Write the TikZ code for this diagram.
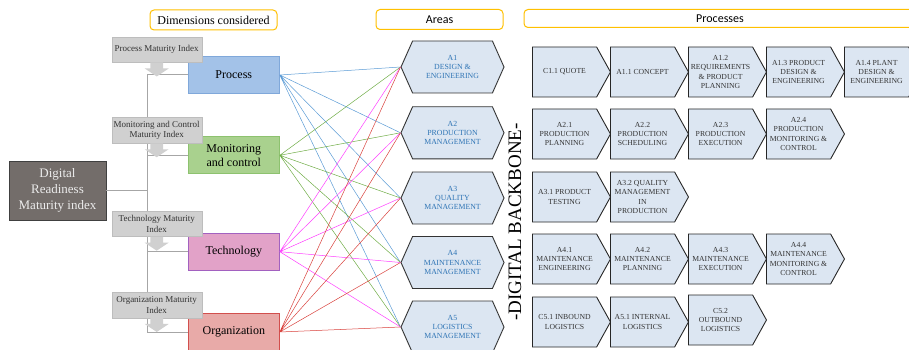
\documentclass[tikz,border=0pt]{standalone}
\usepackage{fontspec}
\setmainfont{Liberation Serif}
\newfontfamily\headsans{Carlito}
\usepackage{tikz}
\usetikzlibrary{shapes.symbols}
\definecolor{hdrgold}{HTML}{FFC000}
\definecolor{idxfill}{HTML}{D0D0D0}
\definecolor{idxedge}{HTML}{BDBDBD}
\definecolor{trunkgrey}{HTML}{A6A6A6}
\definecolor{drmifill}{HTML}{736D6A}
\definecolor{procfill}{HTML}{A3C2E8}
\definecolor{procedge}{HTML}{80A8DA}
\definecolor{monfill}{HTML}{A9D18E}
\definecolor{monedge}{HTML}{8DC26F}
\definecolor{techfill}{HTML}{E2A2C8}
\definecolor{techedge}{HTML}{A261C0}
\definecolor{orgfill}{HTML}{E8AAA8}
\definecolor{orgedge}{HTML}{D24F4D}
\definecolor{boxfill}{HTML}{DCE6F2}
\definecolor{areablue}{HTML}{2E74B5}
\definecolor{lnblue}{HTML}{5B9BD5}
\definecolor{lngreen}{HTML}{70AD47}
\definecolor{lnpink}{HTML}{FF3DFF}
\definecolor{lnred}{HTML}{D9413C}

\begin{document}
\begin{tikzpicture}[x=1pt,y=-1pt,
    header/.style={draw=hdrgold, line width=1pt, rounded corners=4pt, fill=white,
      minimum height=20pt, inner sep=0pt, font=\fontsize{12}{14}\selectfont},
    idxbox/.style={draw=idxedge, fill=idxfill, minimum width=90pt, minimum height=25.5pt,
      inner sep=1pt, align=center, text=black!80, font=\fontsize{9}{10.7}\selectfont},
    dimbox/.style={minimum width=91pt, minimum height=37pt, inner sep=1pt, align=center,
      line width=1pt, font=\fontsize{12}{14.3}\selectfont},
    area/.style={signal, signal to=west and east, signal pointer angle=132, draw=black!80,
      line width=0.9pt, fill=boxfill, minimum width=103pt, minimum height=52pt, inner sep=1pt,
      align=center, text=areablue, font=\fontsize{7.8}{9.2}\selectfont},
    procbox/.style={signal, signal to=east, signal pointer angle=122, draw=black!85,
      line width=0.9pt, fill=boxfill, minimum width=78pt, minimum height=50pt, inner sep=1pt,
      align=center, text=black!80, anchor=west, font=\fontsize{7.7}{9.3}\selectfont},
    link/.style={line width=0.5pt},
    trunk/.style={draw=trunkgrey, line width=1pt}]
  \useasboundingbox (0,0) rectangle (909,350);

  % headers
  \node (hdim) at (213.5,20) [header, minimum width=127pt] {Dimensions considered};
  \node (hareas) at (439.5,19.5) [header, minimum width=127pt] {\headsans Areas};
  \node (hproc) at (720,18.5) [header, minimum width=392pt, minimum height=18pt] {\headsans Processes};

  % dimensions
  \node (drmi) at (57.5,190.5) [draw=black!75, fill=drmifill, text=white!92!black, minimum width=97pt,
    minimum height=59pt, inner sep=1pt, align=center, font=\fontsize{13}{15.7}\selectfont]
    {Digital\\Readiness\\Maturity index};

  \node (proc) at (233.8,75) [dimbox, draw=procedge, fill=procfill] {Process};
  \node (mon) at (233.8,155.3) [dimbox, draw=monedge, fill=monfill] {Monitoring\\and control};
  \node (tech) at (233.8,251.7) [dimbox, draw=techedge, fill=techfill] {Technology};
  \node (org) at (233.8,332) [dimbox, draw=orgedge, fill=orgfill] {Organization};

  \coordinate (stem) at (147,0);
  \draw[trunk] (proc.west) -- (proc.west -| stem) -- (org.west -| stem) -- (org.west)
    (mon.west) -- (mon.west -| stem)
    (tech.west) -- (tech.west -| stem)
    (drmi.east) -- (drmi.east -| stem);

  \node (pmi) at (156.7,49.5) [idxbox] {Process Maturity Index};
  \node (mmi) at (156.7,130.3) [idxbox] {Monitoring and Control\\Maturity Index};
  \node (tmi) at (156.7,223.7) [idxbox] {Technology Maturity\\Index};
  \node (omi) at (156.7,305) [idxbox] {Organization Maturity\\Index};
  \foreach \n in {pmi,mmi,tmi,omi}
    \fill[idxfill] (\n.south) ++(-6.3,0) -- ++(0,6) -- ++(-5.7,0) -- ++(12,8)
      -- ++(12,-8) -- ++(-5.7,0) -- ++(0,-6) -- cycle;

  % areas
  \node (a1) at (452.5,67) [area] {A1\\DESIGN \&\\ENGINEERING};
  \node (a2) at (452.5,132.8) [area] {A2\\PRODUCTION\\MANAGEMENT};
  \node (a3) at (452.5,198) [area] {A3\\QUALITY\\MANAGEMENT};
  \node (a4) at (452.5,262.5) [area] {A4\\MAINTENANCE\\MANAGEMENT};
  \node (a5) at (452.5,327) [area] {A5\\LOGISTICS\\MANAGEMENT};

  \draw[link, lnblue]
  (proc.east) to (a1.west) (proc.east) to (a2.west) (proc.east) to (a3.west)
  (proc.east) to (a4.west) (proc.east) to (a5.west);
  \draw[link, lngreen]
  (mon.east) to (a1.west) (mon.east) to (a2.west) (mon.east) to (a3.west)
  (mon.east) to (a4.west) (mon.east) to (a5.west);
  \draw[link, lnpink]
  (tech.east) to (a1.west) (tech.east) to (a2.west) (tech.east) to (a3.west)
  (tech.east) to (a4.west) (tech.east) to (a5.west);
  \draw[link, lnred]
  (org.east) to (a1.west) (org.east) to (a2.west) (org.east) to (a3.west)
  (org.east) to (a4.west) (org.east) to (a5.west);

  \node (backbone) at (515,222) [rotate=90, font=\fontsize{19}{19}\selectfont] {-DIGITAL BACKBONE-};

  % processes
  \node (c11) at (532,72) [procbox] {C1.1 QUOTE};
  \node (a11) at (610,72) [procbox] {A1.1 CONCEPT};
  \node (a12) at (688,72) [procbox] {A1.2\\REQUIREMENTS\\\& PRODUCT\\PLANNING};
  \node (a13) at (766,72) [procbox] {A1.3 PRODUCT\\DESIGN \&\\ENGINEERING};
  \node (a14) at (844,72) [procbox] {A1.4 PLANT\\DESIGN \&\\ENGINEERING};

  \node (a21) at (532,134) [procbox] {A2.1\\PRODUCTION\\PLANNING};
  \node (a22) at (610,134) [procbox] {A2.2\\PRODUCTION\\SCHEDULING};
  \node (a23) at (688,134) [procbox] {A2.3\\PRODUCTION\\EXECUTION};
  \node (a24) at (766,134) [procbox] {A2.4\\PRODUCTION\\MONITORING \&\\CONTROL};

  \node (a31) at (532,197) [procbox] {A3.1 PRODUCT\\TESTING};
  \node (a32) at (610,197) [procbox] {A3.2 QUALITY\\MANAGEMENT\\IN\\PRODUCTION};

  \node (a41) at (532,259) [procbox] {A4.1\\MAINTENANCE\\ENGINEERING};
  \node (a42) at (610,259) [procbox] {A4.2\\MAINTENANCE\\PLANNING};
  \node (a43) at (688,259) [procbox] {A4.3\\MAINTENANCE\\EXECUTION};
  \node (a44) at (766,259) [procbox] {A4.4\\MAINTENANCE\\MONITORING \&\\CONTROL};

  \node (c51) at (532,322) [procbox] {C5.1 INBOUND\\LOGISTICS};
  \node (a51) at (610,322) [procbox] {A5.1 INTERNAL\\LOGISTICS};
  \node (c52) at (688,320) [procbox] {C5.2\\OUTBOUND\\LOGISTICS};
\end{tikzpicture}
\end{document}
